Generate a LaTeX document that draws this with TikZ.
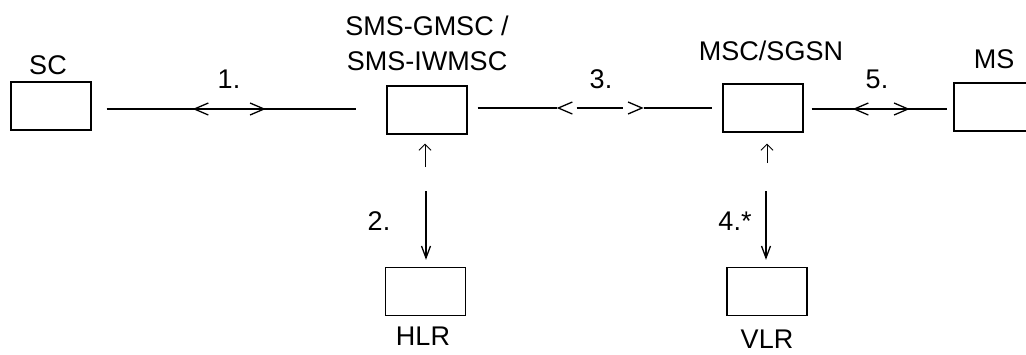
\documentclass[tikz,border=0pt]{standalone}
\usepackage{fontspec}
\setmainfont{Liberation Sans}
\usetikzlibrary{arrows.meta,decorations.markings}
\begin{document}
\begin{tikzpicture}[x=1pt,y=-1pt,
  box/.style={draw,line width=1.4pt,minimum width=80pt,minimum height=48pt,inner sep=0pt},
  lbl/.style={font=\fontsize{27}{31}\selectfont,inner sep=0pt,anchor=base},
  link/.style={line width=1.3pt},
  chevs/.style 2 args={postaction={decorate},decoration={markings,
      mark=at position #1 with {\arrowreversed{Straight Barb[length=14pt,width=12pt,line width=1.3pt]}},
      mark=at position #2 with {\arrow{Straight Barb[length=14pt,width=12pt,line width=1.3pt]}}}},
  down/.style={link,-{Straight Barb[length=12pt,width=9pt,line width=1.3pt]}},
  up/.style={line width=0.9pt,-{Straight Barb[length=6pt,width=12pt,line width=0.9pt]}}
]
\useasboundingbox (0,0) rectangle (1026,354);
% boxes
\node[box] (sc)   at (51,106) {};
\node[box] (gmsc) at (427,110) {};
\node[box] (msc)  at (763,108) {};
\node[box] (ms)   at (994,107) {};
\node[box] (hlr)  at (425.5,291.5) {};
\node[box] (vlr)  at (767,291.5) {};
% labels
\node[lbl] (tsc)  at (48,74) {SC};
\node[lbl] (tgm1) at (427,35) {SMS-GMSC /};
\node[lbl] (tgm2) at (427,70) {SMS-IWMSC};
\node[lbl] (tmsc) at (771,60) {MSC/SGSN};
\node[lbl] (tms)  at (994,68) {MS};
\node[lbl] (thlr) at (423,345) {HLR};
\node[lbl] (tvlr) at (767,348) {VLR};
\node[lbl] (l1) at (229,88) {1.};
\node[lbl] (l3) at (601,88) {3.};
\node[lbl] (l5) at (877,88) {5.};
\node[lbl] (l2) at (379,230) {2.};
\node[lbl] (l4) at (735,230) {4.*};
% horizontal links
\draw[link,chevs={86pt}{159pt}] ([xshift=15pt]sc.east |- 0,109) -- ([xshift=-30pt]gmsc.west |- 0,109);
\draw[link,dash pattern=on 79pt off 20pt on 46pt off 21pt on 90pt,chevs={79pt}{166pt}]
  ([xshift=10pt]gmsc.east |- 0,108) -- ([xshift=-10pt]msc.west |- 0,108);
\draw[link,chevs={41pt}{98pt}] ([xshift=8pt]msc.east |- 0,109) -- ([xshift=-6pt]ms.west |- 0,109);
% vertical links
\coordinate (d2) at (426,191);
\coordinate (d4) at (766,191);
\draw[down,shorten >=7pt] (d2) -- (d2 |- hlr.north);
\draw[down,shorten >=7pt] (d4) -- (d4 |- vlr.north);
\coordinate (u2) at (425,167);
\coordinate (u4) at (767,163);
\draw[up,shorten >=9pt] (u2) -- (u2 |- gmsc.south);
\draw[up,shorten >=11pt] (u4) -- (u4 |- msc.south);
\end{tikzpicture}
\end{document}
